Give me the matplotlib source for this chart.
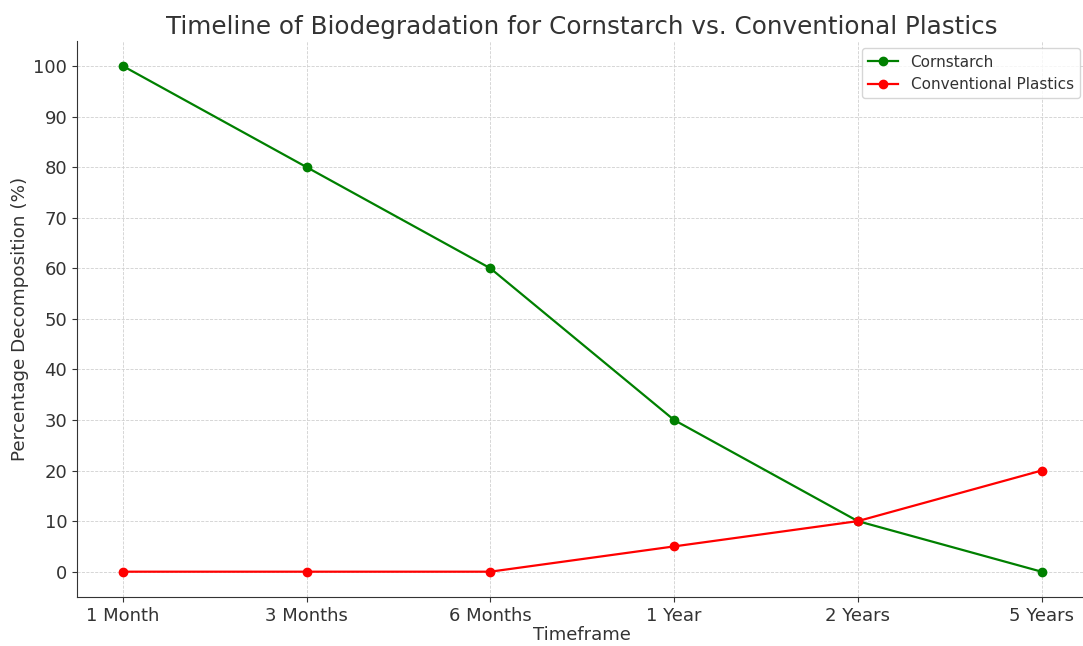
import matplotlib.pyplot as plt

timeframes = ["1 Month", "3 Months", "6 Months", "1 Year", "2 Years", "5 Years"]
cornstarch = [100, 80, 60, 30, 10, 0]
conventional = [0, 0, 0, 5, 10, 20]

text_color = "#333333"

fig = plt.figure(figsize=(10.83, 6.46), dpi=100)
ax = fig.add_axes([0.0711, 0.0759, 0.933, 0.861])

x = range(len(timeframes))
ax.plot(x, cornstarch, marker="o", color="green", label="Cornstarch", linewidth=1.6, markersize=6)
ax.plot(x, conventional, marker="o", color="red", label="Conventional Plastics", linewidth=1.6, markersize=6)

ax.set_xticks(list(x))
ax.set_xticklabels(timeframes)
ax.set_yticks(range(0, 101, 10))
ax.set_ylim(-5, 105)
ax.set_xlim(-0.25, 5.25)

ax.set_title("Timeline of Biodegradation for Cornstarch vs. Conventional Plastics",
             fontsize=17.7, color=text_color, pad=5)
ax.set_xlabel("Timeframe", fontsize=13, color=text_color, labelpad=1)
ax.set_ylabel("Percentage Decomposition (%)", fontsize=13.2, color=text_color, labelpad=3)
ax.tick_params(labelsize=13, colors=text_color)

ax.grid(True, linestyle="--", linewidth=0.6, color="#d0d0d0")
ax.spines["top"].set_visible(False)
ax.spines["right"].set_visible(False)
ax.spines["left"].set_color(text_color)
ax.spines["bottom"].set_color(text_color)

leg = ax.legend(loc="upper right", fontsize=11)
for t in leg.get_texts():
    t.set_color(text_color)

fig.savefig("out.png", dpi=100)
